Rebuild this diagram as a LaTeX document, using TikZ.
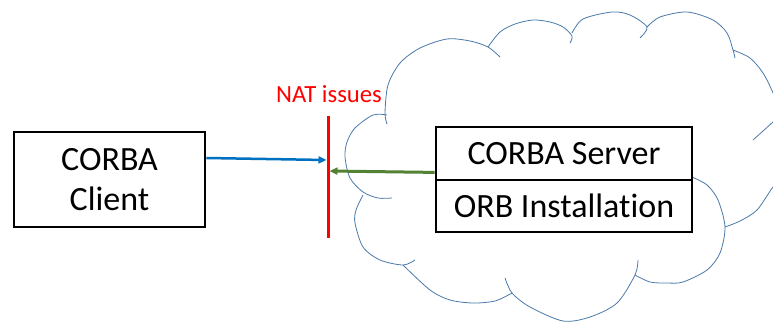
\documentclass[tikz,border=0pt]{standalone}
\usepackage{fontspec}
\setmainfont{Carlito}[Ligatures={NoCommon}]
\usetikzlibrary{arrows.meta}
\definecolor{cloudc}{HTML}{4A7AAB}
\definecolor{arrblue}{HTML}{0070C0}
\definecolor{arrgreen}{HTML}{548235}
\tikzset{
  box/.style={draw=black, line width=2.8pt, fill=white, inner sep=0pt, align=center,
    font=\fontsize{34}{40}\selectfont},
  cloudline/.style={draw=cloudc, line width=0.8pt},
  tipx/.style={-{Triangle[length=8pt,width=7pt]}},
}
\begin{document}
\begin{tikzpicture}[x=1pt,y=-1pt]
\useasboundingbox (0,0) rectangle (773,322);
\fill[white] (0,0) rectangle (773,322);
% cloud
\begin{scope}
\clip (0,0) rectangle (773,322);
\draw[cloudline] plot[smooth] coordinates {(387,124) (385,113) (388,85) (400,63) (420,48) (447,39) (470,41) (488,47) (500,57)};
\draw[cloudline] plot[smooth] coordinates {(488,47) (500,32) (515,24) (533,20) (550,22) (563,27) (572,36) (570,43)};
\draw[cloudline] plot[smooth] coordinates {(572,33) (583,19) (612,12) (630,15) (647,27) (640,38)};
\draw[cloudline] plot[smooth] coordinates {(647,27) (660,17) (687,12) (713,20) (727,33) (733,50) (735,58)};
\draw[cloudline] plot[smooth] coordinates {(733,50) (750,58) (763,73) (773,93) (779,112)};
\draw[cloudline] plot[smooth] coordinates {(785,112) (773,122) (763,131) (753,140)};
\draw[cloudline] plot[smooth] coordinates {(790,168) (773,187) (757,210) (740,221) (725,227)};
\draw[cloudline] plot[smooth] coordinates {(692,177) (707,185) (718,200) (725,227) (720,253) (707,270) (683,282) (667,283) (650,282) (635,275)};
\draw[cloudline] plot[smooth] coordinates {(638,260) (635,275) (617,303) (590,317) (563,321) (530,307) (512,293) (505,278)};
\draw[cloudline] plot[smooth] coordinates {(512,293) (495,301) (473,303) (450,300) (430,290) (403,265)};
\draw[cloudline] plot[smooth] coordinates {(363,195) (356,210) (355,223) (363,247) (380,260) (403,265) (415,260)};
\draw[cloudline] plot[smooth] coordinates {(387,115) (373,115) (355,128) (347,142) (345,157) (350,178) (363,192) (378,198) (392,198)};
\end{scope}
% boxes
\node[box, minimum width=191pt, minimum height=95pt] (client) at (109.5,179.5) {CORBA\\Client};
\node[box, minimum width=256pt, minimum height=53pt] (srv) at (564,153.5) {CORBA Server};
\node[box, minimum width=256pt, minimum height=52pt] (orb) at (564,206) {ORB Installation};
% NAT barrier
\coordinate (nattop) at (328,116);
\coordinate (natbot) at (328,238);
\draw[red, line width=3pt] (nattop) -- (natbot);
\node[red, anchor=base, inner sep=0pt, font=\fontsize{24.7}{28}\selectfont] (natlabel) at (329,102) {NAT issues};
% arrows
\coordinate (bend) at (326.5,160);
\coordinate (gend) at (329.5,171);
\draw[arrblue, line width=2.5pt, tipx] ([yshift=21.5pt]client.east) -- (bend);
\draw[arrgreen, line width=3pt, tipx] ([yshift=9pt]srv.south west) -- (gend);
\end{tikzpicture}
\end{document}
